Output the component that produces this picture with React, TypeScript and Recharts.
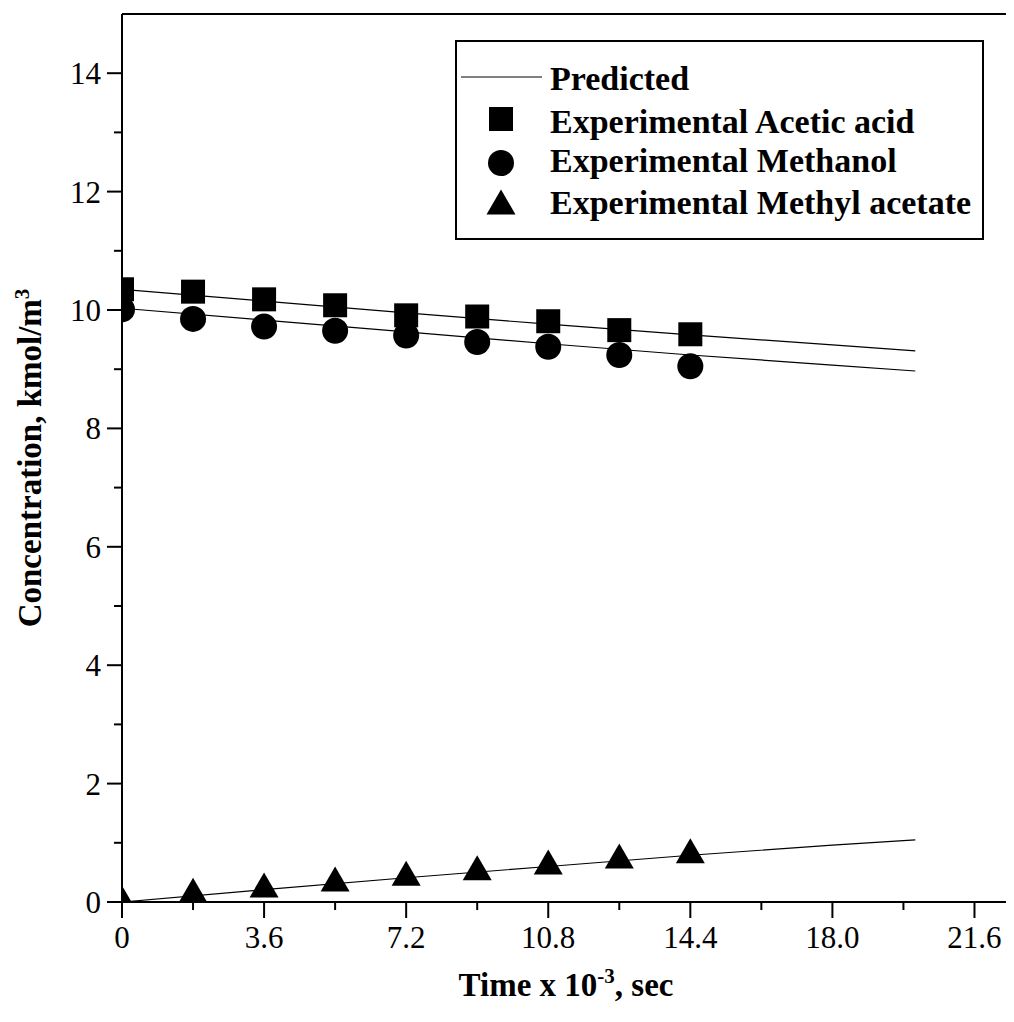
import React from "react";
import {
  ScatterChart,
  Scatter,
  XAxis,
  YAxis,
  ReferenceLine,
  Legend,
} from "recharts";

// time in units of 10^3 s
const expTime = [0, 1.8, 3.6, 5.4, 7.2, 9.0, 10.8, 12.6, 14.4];
const aceticExp = [10.35, 10.31, 10.18, 10.08, 9.91, 9.89, 9.81, 9.66, 9.59];
const methanolExp = [10.01, 9.85, 9.72, 9.65, 9.57, 9.46, 9.38, 9.24, 9.05];
const methylAcetateExp = [0.0, 0.13, 0.22, 0.32, 0.42, 0.51, 0.61, 0.71, 0.8];

const predTime = [0, 3.6, 7.2, 10.8, 14.4, 18.0, 20.1];
const aceticPred = [10.35, 10.15, 9.95, 9.76, 9.58, 9.41, 9.31];
const methanolPred = [10.03, 9.83, 9.63, 9.43, 9.24, 9.07, 8.97];
const methylAcetatePred = [0.0, 0.21, 0.41, 0.6, 0.79, 0.96, 1.05];

const xMajorTicks = [0, 3.6, 7.2, 10.8, 14.4, 18.0, 21.6];
const xTickLabels = ["0", "3.6", "7.2", "10.8", "14.4", "18.0", "21.6"];
const xMinorTicks = [1.8, 5.4, 9.0, 12.6, 16.2, 19.8];
const yMajorTicks = [0, 2, 4, 6, 8, 10, 12, 14];
const yMinorTicks = [1, 3, 5, 7, 9, 11, 13];

const FONT = "'Liberation Serif', 'Times New Roman', serif";

const toPoints = (xs: number[], ys: number[]) => xs.map((x, i) => ({ x, y: ys[i] }));

const SquareMark = ({ cx, cy }: any) => (
  <rect x={cx - 12} y={cy - 12} width={24} height={24} fill="#000" />
);
const CircleMark = ({ cx, cy }: any) => <circle cx={cx} cy={cy} r={13} fill="#000" />;
const TriangleMark = ({ cx, cy }: any) => (
  <polygon
    points={`${cx},${cy - 16.5} ${cx - 14.5},${cy + 8.5} ${cx + 14.5},${cy + 8.5}`}
    fill="#000"
  />
);
const NoMark = () => <g />;

const near = (list: number[], v: number) => list.findIndex((t) => Math.abs(t - v) < 1e-6);

function XTick({ x, y, payload }: any) {
  const idx = near(xMajorTicks, payload.value);
  const major = idx >= 0;
  return (
    <g>
      <line x1={x} y1={y} x2={x} y2={y + (major ? 16 : 8)} stroke="#000" strokeWidth={2} />
      {major && (
        <text x={x} y={y + 46} textAnchor="middle" fontFamily={FONT} fontSize={31} fill="#000">
          {xTickLabels[idx]}
        </text>
      )}
    </g>
  );
}

function YTick({ x, y, payload }: any) {
  const major = near(yMajorTicks, payload.value) >= 0;
  return (
    <g>
      <line x1={x} y1={y} x2={x - (major ? 15 : 8)} y2={y} stroke="#000" strokeWidth={2} />
      {major && (
        <text x={x - 21} y={y + 11} textAnchor="end" fontFamily={FONT} fontSize={31} fill="#000">
          {payload.value}
        </text>
      )}
    </g>
  );
}

function renderLegend() {
  return (
    <svg width={529} height={200} style={{ display: "block" }}>
      <rect x={1} y={1} width={527} height={198} fill="#fff" stroke="#000" strokeWidth={2} />
      <g fontFamily={FONT} fontWeight="bold" fontSize={34} fill="#000">
        <line x1={6} y1={37} x2={87} y2={37} stroke="#000" strokeWidth={1} />
        <text x={95} y={50}>Predicted</text>
        <SquareMark cx={46} cy={79} />
        <text x={95} y={93}>Experimental Acetic acid</text>
        <CircleMark cx={46} cy={123} />
        <text x={95} y={132}>Experimental Methanol</text>
        <TriangleMark cx={46} cy={166} />
        <text x={95} y={174}>Experimental Methyl acetate</text>
      </g>
    </svg>
  );
}

const lineStyle = { stroke: "#000", strokeWidth: 1.2 };

export default function App() {
  return (
    <ScatterChart
      width={1006}
      height={1006}
      margin={{ top: 6, right: 4, bottom: 0, left: 0 }}
      style={{ background: "#fff" }}
    >
      <XAxis
        type="number"
        dataKey="x"
        domain={[0, 22.5]}
        ticks={[...xMajorTicks, ...xMinorTicks].sort((a, b) => a - b)}
        allowDataOverflow
        height={112}
        tickSize={0}
        tickMargin={0}
        tickLine={false}
        tick={<XTick />}
        interval={0}
        axisLine={{ stroke: "#000", strokeWidth: 2 }}
        label={{
          content: (p: any) => {
            const vb = p.viewBox;
            return (
              <text
                x={vb.x + vb.width / 2}
                y={vb.y + 94}
                textAnchor="middle"
                fontFamily={FONT}
                fontWeight="bold"
                fontSize={33}
                fill="#000"
              >
                Time x 10
                <tspan dy={-13} fontSize={21}>-3</tspan>
                <tspan dy={13}>, sec</tspan>
              </text>
            );
          },
        }}
      />
      <YAxis
        type="number"
        dataKey="y"
        domain={[0, 15]}
        ticks={[...yMajorTicks, ...yMinorTicks].sort((a, b) => a - b)}
        allowDataOverflow
        width={114}
        tickSize={0}
        tickMargin={0}
        tickLine={false}
        tick={<YTick />}
        interval={0}
        axisLine={{ stroke: "#000", strokeWidth: 2 }}
        label={{
          content: (p: any) => {
            const vb = p.viewBox;
            const cx = 33;
            const cy = vb.y + vb.height / 2;
            return (
              <text
                x={cx}
                y={cy}
                transform={`rotate(-90 ${cx} ${cy})`}
                textAnchor="middle"
                fontFamily={FONT}
                fontWeight="bold"
                fontSize={33}
                fill="#000"
              >
                Concentration, kmol/m
                <tspan dy={-12} fontSize={21}>3</tspan>
              </text>
            );
          },
        }}
      />
      <ReferenceLine y={15} stroke="#000" strokeWidth={2} />
      <ReferenceLine x={22.5} stroke="#000" strokeWidth={2} />

      <Scatter data={toPoints(predTime, aceticPred)} line={lineStyle} lineType="joint" shape={<NoMark />} isAnimationActive={false} />
      <Scatter data={toPoints(predTime, methanolPred)} line={lineStyle} lineType="joint" shape={<NoMark />} isAnimationActive={false} />
      <Scatter data={toPoints(predTime, methylAcetatePred)} line={lineStyle} lineType="joint" shape={<NoMark />} isAnimationActive={false} />

      <Scatter data={toPoints(expTime, aceticExp)} shape={<SquareMark />} isAnimationActive={false} />
      <Scatter data={toPoints(expTime, methanolExp)} shape={<CircleMark />} isAnimationActive={false} />
      <Scatter data={toPoints(expTime, methylAcetateExp)} shape={<TriangleMark />} isAnimationActive={false} />

      <Legend
        content={renderLegend}
        layout="vertical"
        align="center"
        verticalAlign="middle"
        wrapperStyle={{ left: 447, top: 32, width: 529, height: 200 }}
      />
    </ScatterChart>
  );
}
